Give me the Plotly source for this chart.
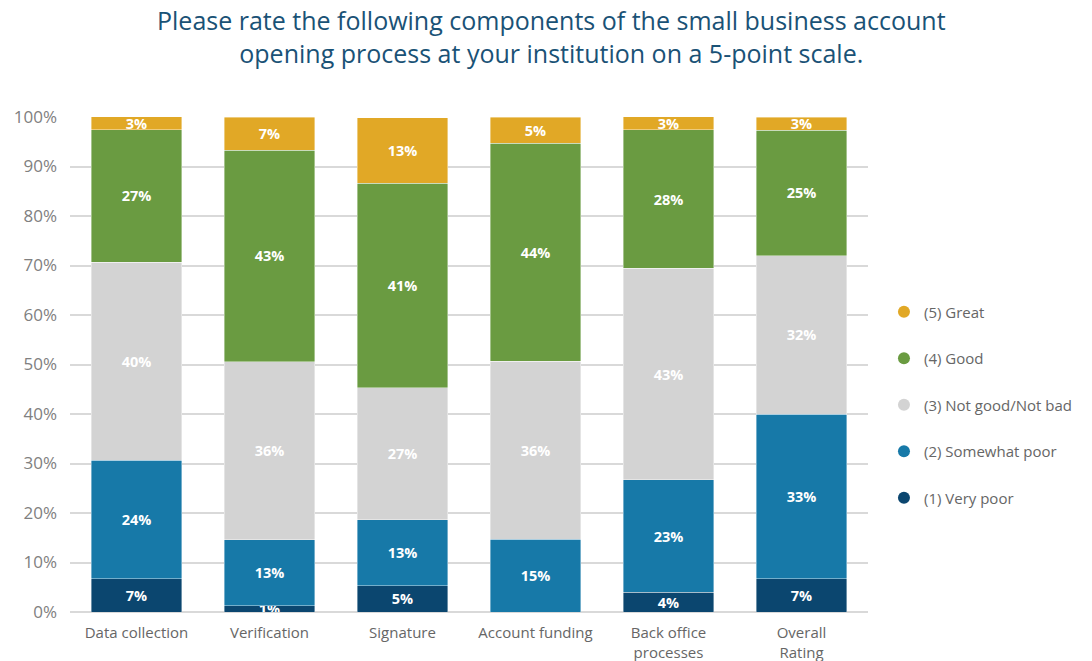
import plotly.graph_objects as go

categories = ["Data collection", "Verification", "Signature", "Account funding",
              "Back office<br>processes", "Overall<br>Rating"]

# Share of respondents (%) per rating, bottom to top of each stack
very_poor = [6.7, 1.3, 5.3, 0.0, 4.0, 6.7]
somewhat_poor = [24.0, 13.3, 13.3, 14.7, 22.7, 33.3]
neutral = [40.0, 36.0, 26.7, 36.0, 42.7, 32.0]
good = [26.7, 42.7, 41.3, 44.0, 28.0, 25.3]
great = [2.7, 6.7, 13.3, 5.3, 2.7, 2.7]

series = [
    ("(1) Very poor", very_poor, "#0B466F"),
    ("(2) Somewhat poor", somewhat_poor, "#1779A8"),
    ("(3) Not good/Not bad", neutral, "#D3D3D3"),
    ("(4) Good", good, "#6A9B41"),
    ("(5) Great", great, "#E1A826"),
]

FONT = "Open Sans"
fig = go.Figure()

for name, vals, color in series:
    labels = [f"{v:.0f}%" if v > 0 else "" for v in vals]
    fig.add_trace(go.Bar(
        x=categories, y=vals, name=name,
        marker=dict(color=color, line=dict(color="rgba(255,255,255,0.5)", width=0.8)),
        text=labels, textposition="inside", insidetextanchor="middle",
        textfont=dict(color="white", size=14.5, family=FONT, weight="bold"),
        showlegend=False, hoverinfo="skip",
    ))

# Round legend swatches, listed from best to worst
for i, (name, vals, color) in enumerate(reversed(series)):
    fig.add_trace(go.Scatter(
        x=[None], y=[None], mode="markers", name=name,
        marker=dict(color=color, size=12, symbol="circle"),
        legendgroup=f"g{i}",
    ))

fig.add_annotation(
    text="Please rate the following components of the small business account<br>"
         "opening process at your institution on a 5-point scale.",
    xref="paper", yref="paper", x=0.604, y=1.162,
    xanchor="center", yanchor="middle", showarrow=False,
    font=dict(family=FONT, size=25, color="#1A5276"),
)

fig.update_layout(
    barmode="stack",
    bargap=0.32,
    width=1092, height=661,
    margin=dict(l=70, r=224, t=117, b=49),
    paper_bgcolor="white", plot_bgcolor="white",
    uniformtext=dict(minsize=14, mode="show"),
    legend=dict(
        x=1.02, xanchor="left", y=0.418, yanchor="middle",
        font=dict(family=FONT, size=15, color="#666666"),
        tracegroupgap=24, itemsizing="constant",
        traceorder="grouped",
    ),
    xaxis=dict(
        tickfont=dict(family=FONT, size=15, color="#666666"),
        showgrid=False, showline=False, ticks="", ticklabelstandoff=10,
        automargin=False,
    ),
    yaxis=dict(
        range=[0, 100], dtick=10, ticksuffix="%",
        tickfont=dict(family=FONT, size=17, color="#808080"),
        showgrid=True, gridcolor="#D9D9D9", gridwidth=1.5,
        zeroline=True, zerolinecolor="#D9D9D9", zerolinewidth=1.5,
        ticks="", ticklabelstandoff=12, automargin=False,
    ),
)

fig.write_html("out.html")
